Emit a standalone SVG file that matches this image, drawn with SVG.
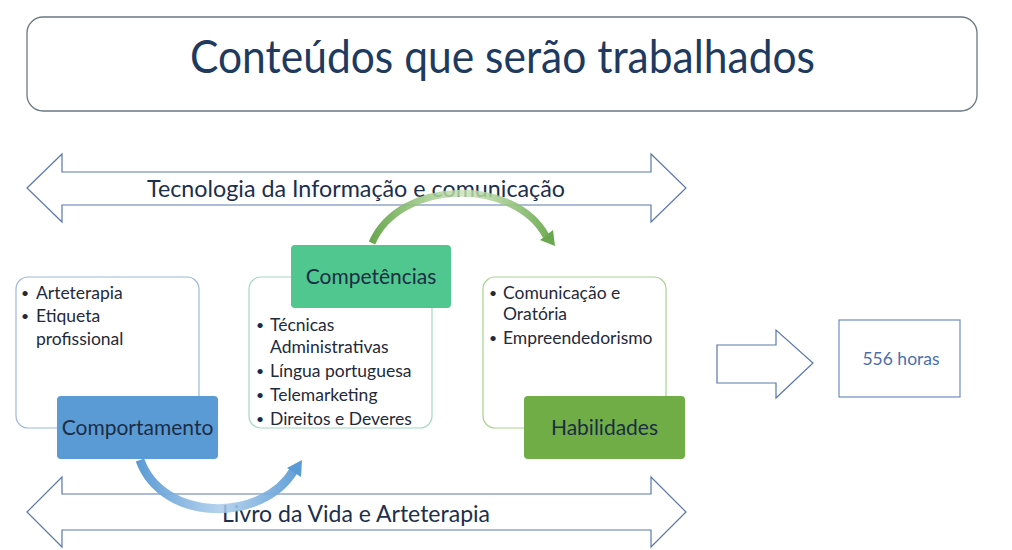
<svg xmlns="http://www.w3.org/2000/svg" width="1012" height="550" viewBox="0 0 1012 550">
<defs>
<style>
text{font-family:Lato,"Open Sans","Liberation Sans",sans-serif}
.dbl{fill:#fff;stroke:#5a78ad;stroke-width:1.2}
.band{font-size:24px;fill:#1c2f4d;text-anchor:middle}
.blt{font-size:17.5px;fill:#1f2a3a}
.dot{font-size:14px;fill:#1f2a3a}
.lbl{font-size:21px;fill:#1b2d45;text-anchor:middle}
</style>
<linearGradient id="gG" gradientUnits="userSpaceOnUse" x1="372" y1="0" x2="556" y2="0">
<stop offset="0" stop-color="#6aa84f"/>
<stop offset="0.5" stop-color="#c8e3b6" stop-opacity="0.8"/>
<stop offset="1" stop-color="#6aa84f"/>
</linearGradient>
<linearGradient id="gB" gradientUnits="userSpaceOnUse" x1="138" y1="0" x2="304" y2="0">
<stop offset="0" stop-color="#5b9bd5"/>
<stop offset="0.5" stop-color="#a9cbea" stop-opacity="0.85"/>
<stop offset="1" stop-color="#5b9bd5"/>
</linearGradient>
</defs>
<rect width="1012" height="550" fill="#fff"/>

<g id="title">
<rect x="27" y="17" width="950" height="94" rx="16" fill="#fff" stroke="#6b7784" stroke-width="1.3"/>
<text x="502.5" y="73" font-size="47" fill="#1f3a5f" text-anchor="middle" textLength="625" lengthAdjust="spacingAndGlyphs">Conteúdos que serão trabalhados</text>
</g>

<g id="band-top">
<polygon class="dbl" points="27,188 62,154 62,172 651,172 651,154 686,188 651,222 651,205 62,205 62,222"/>
<text class="band" x="356" y="197" textLength="418" lengthAdjust="spacingAndGlyphs">Tecnologia da Informação e comunicação</text>
</g>

<g id="band-bottom">
<polygon class="dbl" points="27,512 62,477 62,494 651,494 651,477 686,512 651,547 651,530 62,530 62,547"/>
<text class="band" x="356" y="522" textLength="268" lengthAdjust="spacingAndGlyphs">Livro da Vida e Arteterapia</text>
</g>

<g id="comportamento">
<rect x="16" y="277" width="183" height="151" rx="12" fill="#fff" stroke="#9db7de" stroke-width="1.2"/>
<text class="dot" x="21" y="298">•</text><text class="blt" x="36" y="299">Arteterapia</text>
<text class="dot" x="21" y="321">•</text><text class="blt" x="36" y="322">Etiqueta</text>
<text class="blt" x="36" y="345">profissional</text>
<rect x="57" y="396" width="161" height="63" rx="4" fill="#5b9bd5"/>
<text class="lbl" x="137.5" y="435">Comportamento</text>
</g>

<g id="competencias">
<rect x="249" y="277" width="183" height="151" rx="12" fill="#fff" stroke="#a3d9c0" stroke-width="1.2"/>
<text class="dot" x="256" y="330">•</text><text class="blt" x="270" y="331">Técnicas</text>
<text class="blt" x="270" y="353">Administrativas</text>
<text class="dot" x="256" y="376">•</text><text class="blt" x="270" y="377">Língua portuguesa</text>
<text class="dot" x="256" y="400">•</text><text class="blt" x="270" y="401">Telemarketing</text>
<text class="dot" x="256" y="424">•</text><text class="blt" x="270" y="425">Direitos e Deveres</text>
<rect x="291" y="245" width="160" height="63" rx="4" fill="#4fc78f"/>
<text class="lbl" x="371" y="284">Competências</text>
</g>

<g id="habilidades">
<rect x="483" y="277" width="183" height="151" rx="12" fill="#fff" stroke="#a9d18e" stroke-width="1.2"/>
<text class="dot" x="489" y="298">•</text><text class="blt" x="503" y="299">Comunicação e</text>
<text class="blt" x="503" y="320">Oratória</text>
<text class="dot" x="489" y="343">•</text><text class="blt" x="503" y="344">Empreendedorismo</text>
<rect x="524" y="396" width="161" height="63" rx="4" fill="#70ad47"/>
<text class="lbl" x="604.5" y="435">Habilidades</text>
</g>

<g id="horas">
<rect x="839" y="320" width="121" height="77" fill="#fff" stroke="#6f8cc1" stroke-width="1.2"/>
<text x="901" y="365" font-size="17.5" fill="#4a6fae" text-anchor="middle">556 horas</text>
</g>

<g id="connectors">
<polygon class="dbl" points="717,345 776,345 776,330 813,363 776,398 776,383 717,383"/>
<path d="M372,243 C400,178 515,178 546,236" fill="none" stroke="url(#gG)" stroke-width="7"/>
<polygon points="540,240 555,246 553,230" fill="#6aa84f"/>
<path d="M140,460 C162,522 262,524 294,470" fill="none" stroke="url(#gB)" stroke-width="9"/>
<polygon points="287,468 302,460 301,477" fill="#5b9bd5"/>
</g>
</svg>
